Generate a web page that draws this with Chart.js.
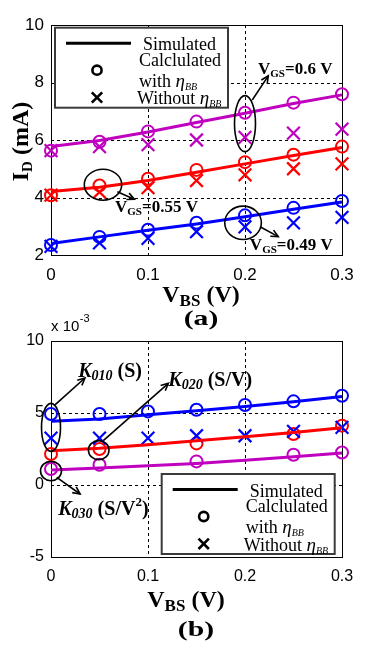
<!DOCTYPE html>
<html><head><meta charset="utf-8">
<script src="https://cdn.jsdelivr.net/npm/chart.js@4.4.1/dist/chart.umd.min.js"></script>
<style>
html,body{margin:0;padding:0;background:#fff;}
body{width:370px;height:648px;position:relative;overflow:hidden;}
canvas{position:absolute;left:0;}
#ca{top:0;}
#cb{top:305px;}
</style></head><body>
<canvas id="ca" width="370" height="335"></canvas>
<canvas id="cb" width="370" height="343"></canvas>
<script>
// ---------- data ----------
const vbs = [0, 0.05, 0.1, 0.15, 0.2, 0.25, 0.3];
const xTicks = [0, 0.1, 0.2, 0.3];
const yTicksA = [2, 4, 6, 8, 10];
const yTicksB = [-5, 0, 5, 10];

// (a) I_D (mA)
const simA_060 = [5.77, 5.98, 6.28, 6.61, 6.93, 7.27, 7.57];
const withA_060 = [5.63, 5.94, 6.30, 6.64, 6.95, 7.30, 7.59];
const withoutA_060 = [5.63, 5.77, 5.84, 6.00, 6.09, 6.24, 6.38];
const simA_055 = [4.21, 4.36, 4.59, 4.88, 5.17, 5.46, 5.74];
const withA_055 = [4.08, 4.42, 4.65, 4.96, 5.23, 5.49, 5.77];
const withoutA_055 = [4.08, 4.19, 4.34, 4.59, 4.79, 5.00, 5.17];
const simA_049 = [2.40, 2.63, 2.86, 3.08, 3.33, 3.59, 3.84];
const withA_049 = [2.35, 2.63, 2.88, 3.12, 3.38, 3.64, 3.88];
const withoutA_049 = [2.30, 2.42, 2.58, 2.81, 2.98, 3.12, 3.31];

// (b) values in units of 10^-3
const simK010 = [4.42, 4.58, 4.88, 5.15, 5.45, 5.78, 6.15];
const withK010 = [4.93, 4.93, 5.11, 5.23, 5.56, 5.81, 6.20];
const withoutK010 = [3.26, 3.26, 3.26, 3.42, 3.42, 3.72, 4.00];
const simK020 = [2.38, 2.55, 2.80, 3.08, 3.35, 3.65, 3.98];
const withK020 = [2.15, 2.50, null, 2.89, null, 3.54, 4.12];
const simK030 = [1.04, 1.18, 1.33, 1.50, 1.72, 1.96, 2.22];
const withK030 = [1.11, 1.41, null, 1.64, null, 2.10, 2.26];

// ---------- styles ----------
const BLUE = '#0000ff', RED = '#ff0000', MAG = '#bf00bf';
const SERIF = '"Liberation Serif","Times New Roman",serif';
const SANS = '"Liberation Sans",Arial,sans-serif';
function F(sz, bold, italic){ return (italic?'italic ':'')+(bold?'bold ':'')+sz+'px '+SERIF; }

function pts(arr){ return vbs.map((x,i)=>({x:x, y:arr[i]})); }
function simDs(arr,c){ return {data:pts(arr), borderColor:c, borderWidth:3, pointRadius:0, tension:0, fill:false, clip:false, order:0}; }
function circDs(arr,c){ return {data:pts(arr), showLine:false, pointStyle:'circle', pointRadius:6, pointBorderWidth:2, pointBorderColor:c, pointBackgroundColor:'rgba(0,0,0,0)', borderColor:c, clip:false, order:1}; }
function xDs(arr,c){ return {data:pts(arr), showLine:false, pointStyle:'crossRot', pointRadius:9, pointBorderWidth:2.2, pointBorderColor:c, borderColor:c, clip:false, order:1}; }

function richWidth(ctx, parts){ let w=0; for(const p of parts){ ctx.font=p.f; w+=ctx.measureText(p.t).width; } return w; }
function drawRich(ctx, x, y, parts, align){
  let cx = align==='center' ? x - richWidth(ctx,parts)/2 : x;
  ctx.textAlign='left'; ctx.textBaseline='alphabetic'; ctx.fillStyle='#000';
  for(const p of parts){ ctx.font=p.f; ctx.fillText(p.t, cx, y+(p.dy||0)); cx += ctx.measureText(p.t).width; }
}
function drawArrow(ctx,x1,y1,x2,y2){
  ctx.beginPath(); ctx.moveTo(x1,y1); ctx.lineTo(x2,y2); ctx.stroke();
  const a=Math.atan2(y2-y1,x2-x1), L=8, s=0.45;
  ctx.beginPath();
  ctx.moveTo(x2-L*Math.cos(a-s), y2-L*Math.sin(a-s));
  ctx.lineTo(x2,y2);
  ctx.lineTo(x2-L*Math.cos(a+s), y2-L*Math.sin(a+s));
  ctx.stroke();
}
function drawLegend(ctx,x0,y0){
  ctx.save();
  ctx.fillStyle='#fff'; ctx.fillRect(x0,y0,173,80);
  ctx.strokeStyle='#3a3a3a'; ctx.lineWidth=2; ctx.strokeRect(x0,y0,173,80);
  ctx.strokeStyle='#000'; ctx.lineWidth=3;
  ctx.beginPath(); ctx.moveTo(x0+11,y0+15.5); ctx.lineTo(x0+76,y0+15.5); ctx.stroke();
  ctx.lineWidth=2.6;
  ctx.beginPath(); ctx.arc(x0+42,y0+42.5,4.6,0,Math.PI*2); ctx.stroke();
  const cx=x0+42, cy=y0+69.8, d=5.2;
  ctx.beginPath(); ctx.moveTo(cx-d,cy-d); ctx.lineTo(cx+d,cy+d); ctx.moveTo(cx+d,cy-d); ctx.lineTo(cx-d,cy+d); ctx.stroke();
  drawRich(ctx,x0+88,y0+22.5,[{t:'Simulated',f:F(18)}]);
  drawRich(ctx,x0+84,y0+38,[{t:'Calclulated',f:F(18)}]);
  drawRich(ctx,x0+84,y0+59,[{t:'with ',f:F(18)},{t:'η',f:F(19,false,true)},{t:'BB',f:F(10,false,true),dy:3}]);
  drawRich(ctx,x0+82,y0+76.5,[{t:'Without ',f:F(18)},{t:'η',f:F(19,false,true)},{t:'BB',f:F(10,false,true),dy:3}]);
  ctx.restore();
}

function gridPlugin(){
  return {
    id:'mgrid',
    beforeDatasetsDraw(chart){
      const ctx=chart.ctx, a=chart.chartArea, xs=chart.scales.x, ys=chart.scales.y;
      ctx.save(); ctx.strokeStyle='#000'; ctx.lineWidth=1; ctx.setLineDash([3,3]);
      xs.ticks.forEach(t=>{ if(t.value>xs.min && t.value<xs.max){ const p=Math.round(xs.getPixelForValue(t.value))+0.5; ctx.beginPath(); ctx.moveTo(p,a.top); ctx.lineTo(p,a.bottom); ctx.stroke(); }});
      ys.ticks.forEach(t=>{ if(t.value>ys.min && t.value<ys.max){ const p=Math.round(ys.getPixelForValue(t.value))+0.5; ctx.beginPath(); ctx.moveTo(a.left,p); ctx.lineTo(a.right,p); ctx.stroke(); }});
      ctx.setLineDash([]);
      ctx.strokeRect(Math.round(a.left)+0.5, Math.round(a.top)+0.5, Math.round(a.right-a.left), Math.round(a.bottom-a.top));
      ctx.restore();
    }
  };
}

function annoPlugin(cfg){
  return {
    id:'anno',
    afterDatasetsDraw(chart){
      const ctx=chart.ctx, a=chart.chartArea, xs=chart.scales.x, ys=chart.scales.y;
      const X=v=>xs.getPixelForValue(v), Y=v=>ys.getPixelForValue(v);
      ctx.save();
      ctx.strokeStyle='#000'; ctx.lineWidth=1.6;
      cfg.ellipses.forEach(e=>{ ctx.beginPath(); ctx.ellipse(X(e.x),Y(e.y),e.rx,e.ry,0,0,Math.PI*2); ctx.stroke(); });
      cfg.arrows.forEach(r=>drawArrow(ctx,X(r[0]),Y(r[1]),X(r[2]),Y(r[3])));
      cfg.labels.forEach(l=>drawRich(ctx,X(l.x),Y(l.y),l.parts));
      drawLegend(ctx,a.left+cfg.legend[0],a.top+cfg.legend[1]);
      ctx.restore();
    },
    afterDraw(chart){
      const ctx=chart.ctx, a=chart.chartArea;
      ctx.save();
      drawRich(ctx,a.left+cfg.xtCx,a.bottom+cfg.xtB,[{t:'V',f:F(24,true)},{t:'BS',f:F(17,true),dy:4},{t:' (V)',f:F(24,true)}],'center');
      ctx.save(); ctx.translate(a.left+cfg.tagCx,a.bottom+cfg.tagB); ctx.scale(1.35,1);
      drawRich(ctx,0,0,[{t:cfg.tag,f:F(22,true)}],'center'); ctx.restore();
      if(cfg.yTitle){
        ctx.save(); ctx.translate(28,141.5); ctx.rotate(-Math.PI/2);
        drawRich(ctx,0,0,[{t:'I',f:F(24,true)},{t:'D',f:F(15,true),dy:4},{t:' (mA)',f:F(24,true)}],'center');
        ctx.restore();
      }
      if(cfg.exp){
        ctx.font='15px '+SANS; ctx.fillStyle='#000'; ctx.textAlign='left'; ctx.textBaseline='alphabetic';
        ctx.fillText('x 10', a.left, a.top-10);
        const w=ctx.measureText('x 10').width;
        ctx.font='11px '+SANS; ctx.fillText('-3', a.left+w+0.5, a.top-19);
      }
      ctx.restore();
    }
  };
}

function scalesCfg(yTicks, xH, tickSize){
  const tf={family:SANS,size:tickSize};
  return {
    x:{type:'linear',min:0,max:0.3,
       afterBuildTicks:s=>{s.ticks=xTicks.map(v=>({value:v}));},
       ticks:{font:tf,color:'#000',padding:10,maxRotation:0,autoSkip:false,callback:v=>String(Math.round(v*10)/10)},
       grid:{display:false,drawTicks:false},border:{display:false},
       afterFit:s=>{s.height=xH;}},
    y:{type:'linear',min:yTicks[0],max:yTicks[yTicks.length-1],
       afterBuildTicks:s=>{s.ticks=yTicks.map(v=>({value:v}));},
       ticks:{font:tf,color:'#000',padding:7,autoSkip:false,callback:v=>String(v)},
       grid:{display:false,drawTicks:false},border:{display:false},
       afterFit:s=>{s.width=51;}}
  };
}

// ---------- chart (a) ----------
const Vg=(main,sub,rest)=>[{t:main,f:F(17,true)},{t:sub,f:F(11,true),dy:3},{t:rest,f:F(17,true)}];
new Chart(document.getElementById('ca'),{
  type:'line',
  data:{datasets:[
    circDs(withA_060,MAG), xDs(withoutA_060,MAG), simDs(simA_060,MAG),
    circDs(withA_055,RED), xDs(withoutA_055,RED), simDs(simA_055,RED),
    circDs(withA_049,BLUE), xDs(withoutA_049,BLUE), simDs(simA_049,BLUE)
  ]},
  options:{responsive:false,animation:false,events:[],
    layout:{padding:{top:25,right:28,left:0,bottom:0}},
    plugins:{legend:{display:false},tooltip:{enabled:false}},
    scales:scalesCfg(yTicksA,80,17)},
  plugins:[gridPlugin(),annoPlugin({
    ellipses:[{x:0.2,y:6.57,rx:10.5,ry:28},{x:0.0536,y:4.445,rx:18.7,ry:15.5},{x:0.198,y:3.12,rx:18.3,ry:16.7}],
    arrows:[[0.2075,7.39,0.224,8.23],[0.0684,4.20,0.0859,3.94],[0.2155,2.98,0.2343,2.64]],
    labels:[{x:0.2134,y:8.30,parts:Vg('V','GS','=0.6 V')},{x:0.066,y:3.51,parts:Vg('V','GS','=0.55 V')},{x:0.205,y:2.17,parts:Vg('V','GS','=0.49 V')}],
    legend:[4,2.7], xtCx:150, xtB:47, tagCx:150, tagB:70, tag:'(a)', yTitle:true, exp:false
  })]
});

// ---------- chart (b) ----------
const Kl=(sub,rest,sup)=>{const p=[{t:'K',f:F(20,true,true)},{t:sub,f:F(14,true,true),dy:3},{t:rest,f:F(20,true)}]; if(sup){p.push({t:'2',f:F(13,true),dy:-9});p.push({t:')',f:F(20,true)});} return p;};
new Chart(document.getElementById('cb'),{
  type:'line',
  data:{datasets:[
    circDs(withK010,BLUE), xDs(withoutK010,BLUE), simDs(simK010,BLUE),
    circDs(withK020,RED), simDs(simK020,RED),
    circDs(withK030,MAG), simDs(simK030,MAG)
  ]},
  options:{responsive:false,animation:false,events:[],
    layout:{padding:{top:36,right:28,left:0,bottom:0}},
    plugins:{legend:{display:false},tooltip:{enabled:false}},
    scales:scalesCfg(yTicksB,91,16)},
  plugins:[gridPlugin(),annoPlugin({
    ellipses:[{x:0,y:4.0,rx:9.5,ry:24},{x:0.0492,y:2.42,rx:10.3,ry:9.5},{x:0,y:0.97,rx:10.5,ry:9.7}],
    arrows:[[0.0041,5.56,0.035,7.43],[0.0539,3.08,0.121,7.06],[0.0059,0.53,0.030,-0.625]],
    labels:[{x:0.028,y:7.52,parts:Kl('010',' (S)')},{x:0.121,y:6.90,parts:Kl('020',' (S/V)')},{x:0.0075,y:-2.06,parts:Kl('030',' (S/V',true)}],
    legend:[110.7,133], xtCx:135, xtB:50, tagCx:145, tagB:79, tag:'(b)', yTitle:false, exp:true
  })]
});
</script>
</body></html>
